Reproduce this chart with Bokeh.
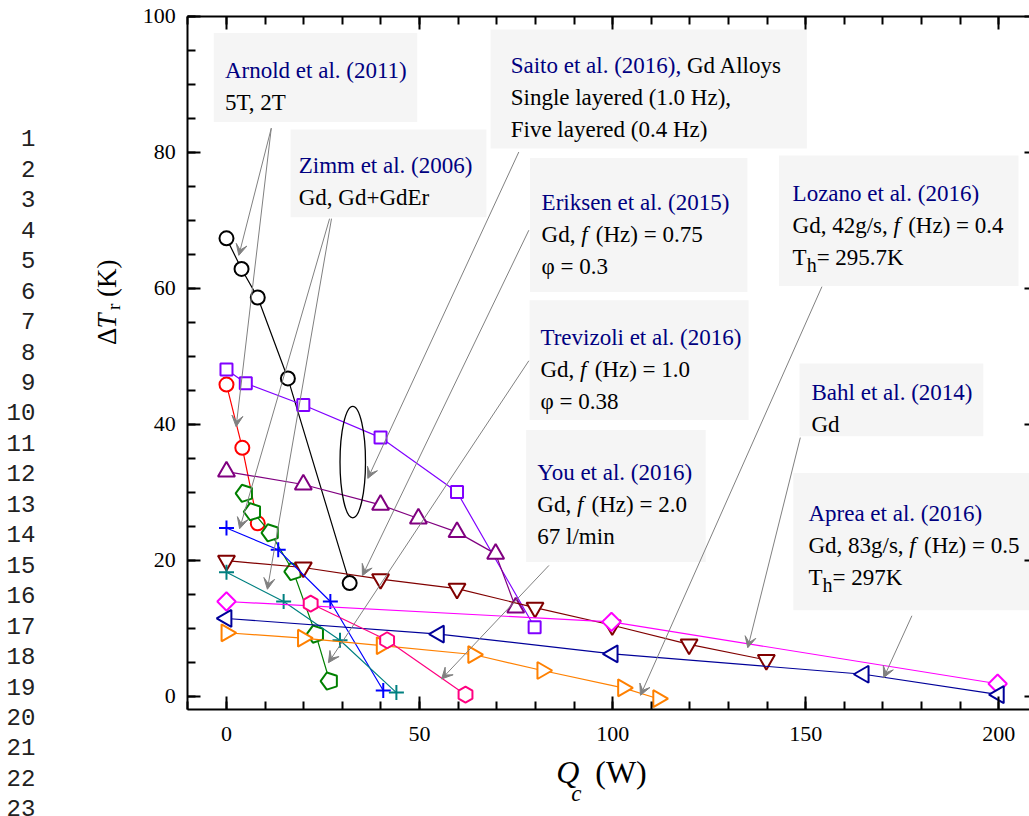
import math
from bokeh.plotting import figure
from bokeh.models import Range1d, LinearAxis, FixedTicker, BoxAnnotation, Label, Arrow, VeeHead
from bokeh.embed import file_html
from bokeh.resources import INLINE

# ---------------- data : Qc (W) and delta T_r (K) ----------------
arnold5_q = [0, 3.9, 8.1, 15.9, 31.9]
arnold5_dt = [67.3, 62.8, 58.6, 46.7, 16.6]
arnold2_q = [0, 4.1, 8.1]
arnold2_dt = [45.8, 36.5, 25.4]
zimm_q = [4.7, 6.8, 11.4, 17.3, 23.1, 26.7]
zimm_dt = [29.8, 27.1, 24.0, 18.3, 9.1, 2.2]
saito5_q = [0, 5.0, 19.9, 39.9, 59.7, 79.8]
saito5_dt = [48.0, 46.0, 42.8, 38.0, 30.0, 10.1]
saito1_q = [0, 19.9, 39.9, 49.7, 59.7, 69.7, 74.9]
saito1_dt = [33.0, 31.1, 28.1, 26.1, 24.1, 20.9, 13.0]
trev_q = [0, 19.9, 39.9, 59.7, 79.9, 99.9, 119.8, 139.8]
trev_dt = [19.9, 18.9, 17.2, 15.8, 13.0, 10.4, 7.6, 5.3]
erik_q = [0, 13.4, 26.9, 40.6]
erik_dt = [24.7, 21.5, 13.9, 0.8]
erik2_q = [0, 14.8, 29.4, 44.0]
erik2_dt = [18.2, 13.9, 8.2, 0.5]
bahl_q = [0, 99.7, 199.7]
bahl_dt = [13.9, 10.9, 1.8]
aprea_q = [0, 55, 100, 165, 200]
aprea_dt = [11.4, 9.1, 6.2, 3.2, 0.2]
lozano_q = [0, 19.8, 40.2, 63.9, 81.8, 102.7, 111.8]
lozano_dt = [9.3, 8.5, 7.4, 6.1, 3.75, 1.2, -0.4]
you_q = [21.8, 41.6, 61.9]
you_dt = [13.6, 8.2, 0.2]

x_major = [0, 50, 100, 150, 200]
x_minor = list(range(-10, 211, 10))
y_major = [0, 20, 40, 60, 80, 100]
y_minor = list(range(0, 101, 5))
line_numbers = [str(i) for i in range(1, 24)]

# axes box of the chart (data units)
X0, X1, Y0, Y1 = -10, 210, -2, 100

# ellipse marking the Saito group (data units)
ell_x, ell_y, ell_w, ell_h = 32.7, 34.4, 6.6, 16.4

SERIF = "Liberation Serif"
BLUE = "#000080"
GRAY = "#808080"

# the frame covers the whole canvas; the axes are pinned at the chart's box
p = figure(width=1029, height=816, x_range=Range1d(-58.52, 207.95), y_range=Range1d(-17.72, 102.28),
           output_backend="svg", toolbar_location=None, title=None,
           x_axis_location=None, y_axis_location=None,
           min_border=0, min_border_left=0, min_border_right=0, min_border_top=0, min_border_bottom=0)
p.outline_line_color = None
p.xgrid.visible = False
p.ygrid.visible = False
p.background_fill_color = "white"
p.border_fill_color = "white"


def make_axis(loc, bounds, ticks, minor, labels=True):
    ax = LinearAxis(fixed_location=loc, bounds=bounds)
    ax.ticker = FixedTicker(ticks=ticks, minor_ticks=minor)
    ax.axis_line_width = 2
    ax.axis_line_color = "black"
    ax.major_tick_line_width = 2
    ax.minor_tick_line_width = 2
    ax.major_tick_in = 13
    ax.major_tick_out = 0
    ax.minor_tick_in = 8
    ax.minor_tick_out = 0
    ax.major_label_text_font = SERIF
    ax.major_label_text_font_size = "22px"
    ax.major_label_text_color = "black" if labels else None
    return ax


bottom_ax = make_axis(Y0, (X0, X1), x_major, x_minor)
bottom_ax.major_label_standoff = 17
p.add_layout(bottom_ax, "below")
left_ax = make_axis(X0, (Y0, Y1), y_major, y_minor)
left_ax.major_label_standoff = 12
p.add_layout(left_ax, "left")
p.add_layout(make_axis(Y1, (X0, X1), x_major, x_minor, labels=False), "above")
p.add_layout(make_axis(X1, (Y0, Y1), y_major, y_minor, labels=False), "right")

# ---------------- annotation boxes (underlay) ----------------
boxes = [(-3.3, 49.4, 97.5, 84.4), (16.6, 67.3, 83.3, 70.4), (68.4, 150.3, 98.0, 80.5),
         (78.6, 134.9, 79.1, 59.4), (143.1, 205.1, 79.5, 60.3), (78.5, 135.2, 58.2, 40.6),
         (148.4, 196.0, 48.9, 38.2), (77.6, 124.1, 39.1, 19.7), (146.8, 215.0, 32.8, 12.6)]
for l, r, t, b in boxes:
    p.add_layout(BoxAnnotation(left=l, right=r, top=t, bottom=b, fill_color="#F5F5F5",
                               fill_alpha=1.0, line_color=None, level="underlay"))

# ---------------- series ----------------
def series(q, dt, color, marker, size, angle=0.0):
    p.line(q, dt, line_color=color, line_width=1.2)
    p.scatter(q, dt, marker=marker, size=size, angle=angle, fill_color="white",
              line_color=color, line_width=2)

series(arnold5_q, arnold5_dt, "black", "circle", 14)
series(arnold2_q, arnold2_dt, "#FF0000", "circle", 14)
p.line(zimm_q, zimm_dt, line_color="#008000", line_width=1.2)
p.ngon(zimm_q, zimm_dt, radius=9, radius_units="screen", n=5, angle=math.pi / 2,
       fill_color="white", line_color="#008000", line_width=2)
series(saito5_q, saito5_dt, "#8000FF", "square", 12)
series(saito1_q, saito1_dt, "#800080", "triangle", 17)
series(trev_q, trev_dt, "#800000", "inverted_triangle", 17)
series(erik_q, erik_dt, "#0000FF", "cross", 15)
series(erik2_q, erik2_dt, "#008080", "cross", 15)
series(bahl_q, bahl_dt, "#FF00FF", "square", 13, angle=math.pi / 4)
series(aprea_q, aprea_dt, "#000099", "triangle", 17, angle=math.pi / 2)
series(lozano_q, lozano_dt, "#FF8000", "triangle", 17, angle=-math.pi / 2)
series(you_q, you_dt, "#FF0080", "hex", 16, angle=math.pi / 2)

p.ellipse([ell_x], [ell_y], width=ell_w, height=ell_h, fill_color=None,
          line_color="black", line_width=1.3)

# ---------------- arrows ----------------
arrows = [(11.6, 83.5, 3.2, 64.8), (11.6, 83.5, 2.5, 39.6),
          (26.7, 70.2, 3.4, 24.6), (27.2, 70.2, 10.6, 15.7),
          (75.7, 80.0, 36.6, 32.0), (78.3, 68.5, 35.2, 17.7),
          (78.3, 49.3, 26.4, 4.9), (83.5, 19.2, 55.7, 2.5),
          (154.2, 60.2, 107.2, 0.1), (148.6, 38.0, 135.0, 7.1),
          (177.5, 11.8, 170.2, 2.7)]
for xs, ys, xe, ye in arrows:
    p.add_layout(Arrow(x_start=xs, y_start=ys, x_end=xe, y_end=ye, line_color=GRAY,
                       line_width=1,
                       end=VeeHead(size=11, fill_color=GRAY, line_color=GRAY, line_width=1)))

# ---------------- text helpers ----------------
TW = {' ': .25, '(': .333, ')': .333, ',': .25, '.': .25, '/': .278, '=': .564, '+': .564,
      'A': .722, 'E': .611, 'F': .556, 'G': .722, 'H': .722, 'K': .722, 'S': .556, 'T': .611,
      'W': .944, 'Q': .722, 'Δ': .612,
      'a': .444, 'c': .444, 'd': .5, 'e': .444, 'f': .3, 'g': .5, 'h': .5, 'i': .278, 'k': .5,
      'l': .278, 'm': .778, 'n': .5, 'o': .5, 'r': .333, 's': .389, 't': .278, 'u': .5, 'v': .5,
      'y': .5, 'z': .444, 'φ': .55}


def tw(s, size):
    return sum(TW.get(c, 0.5) for c in s) * size


def lab(x, y, text, size, xo=0.0, yo=0.0, style="normal", angle=0.0, font=SERIF, align="left",
        baseline="alphabetic", color="black"):
    p.add_layout(Label(x=x, y=y, x_offset=xo, y_offset=yo, text=text, angle=angle,
                       text_font=font, text_font_size=f"{size}px", text_font_style=style,
                       text_color=color, text_align=align, text_baseline=baseline))


def run(x, y, segs, yo0=0.0, rotated=False):
    """Lay out a line of mixed-style segments; spaces are advanced, not drawn."""
    off = 0.0
    for s, col, st, size, shift in segs:
        lead = len(s) - len(s.lstrip(" "))
        off += tw(" " * lead, size)
        core = s.strip(" ")
        if core:
            if rotated:
                lab(x, y, core, size, xo=shift, yo=off, style=st, angle=math.pi / 2, color=col)
            else:
                lab(x, y, core, size, xo=off, yo=yo0 - shift, style=st, color=col)
        off += tw(core, size) + (2 if st == "italic" else 0)
        trail = len(s) - len(s.rstrip(" ")) if core else 0
        off += tw(" " * trail, size)


# ---------------- box texts ----------------
FS = 23
SUB = 20
LS = 32
N, I = "normal", "italic"
texts = [
    (-0.4, 92.0, [[("Arnold et al. (2011)", BLUE, N)], [("5T, 2T", "black", N)]]),
    (18.7, 78.0, [[("Zimm et al. (2006)", BLUE, N)], [("Gd, Gd+GdEr", "black", N)]]),
    (73.6, 92.7, [[("Saito et al. (2016),", BLUE, N), (" Gd Alloys", "black", N)],
                  [("Single layered (1.0 Hz),", "black", N)],
                  [("Five layered (0.4 Hz)", "black", N)]]),
    (81.6, 72.6, [[("Eriksen et al. (2015)", BLUE, N)],
                  [("Gd, ", "black", N), ("f", "black", I), (" (Hz) = 0.75", "black", N)],
                  [("φ = 0.3", "black", N)]]),
    (146.6, 73.9, [[("Lozano et al. (2016)", BLUE, N)],
                   [("Gd, 42g/s, ", "black", N), ("f", "black", I), (" (Hz) = 0.4", "black", N)],
                   [("T", "black", N), ("h", "black", "sub"), ("= 295.7K", "black", N)]]),
    (81.3, 52.7, [[("Trevizoli et al. (2016)", BLUE, N)],
                  [("Gd, ", "black", N), ("f", "black", I), (" (Hz) = 1.0", "black", N)],
                  [("φ = 0.38", "black", N)]]),
    (151.5, 44.7, [[("Bahl et al. (2014)", BLUE, N)], [("Gd", "black", N)]]),
    (80.5, 32.9, [[("You et al. (2016)", BLUE, N)],
                  [("Gd, ", "black", N), ("f", "black", I), (" (Hz) = 2.0", "black", N)],
                  [("67 l/min", "black", N)]]),
    (150.7, 26.9, [[("Aprea et al. (2016)", BLUE, N)],
                   [("Gd, 83g/s, ", "black", N), ("f", "black", I), (" (Hz) = 0.5", "black", N)],
                   [("T", "black", N), ("h", "black", "sub"), ("= 297K", "black", N)]]),
]
for x0, y0, lines in texts:
    for li, segs in enumerate(lines):
        full = []
        for s, col, st in segs:
            if st == "sub":
                full.append((s, col, N, SUB, 8))
            else:
                full.append((s, col, st, FS, 0))
        run(x0, y0, full, yo0=-LS * li)

# ---------------- axis titles ----------------
QX, QY = 85.4, -11.2
lab(QX, QY, "Q", 32, style="italic")
lab(QX, QY, "c", 23, xo=15, yo=-21, style="italic")
lab(QX, QY, "(W)", 32, xo=39)
run(-31.0, 51.6, [("Δ", "black", N, 27, 0), ("T", "black", I, 27, 0), ("r", "black", N, 19, 7),
                  (" (K)", "black", N, 27, 0)], rotated=True)

# left margin line numbers
for i, t in enumerate(line_numbers):
    lab(-49.5, 82.0, t, 24, yo=-30.45 * i, font="Liberation Mono", align="right",
        baseline="middle", color="#222222")

open("out.html", "w").write(file_html(p, INLINE))
